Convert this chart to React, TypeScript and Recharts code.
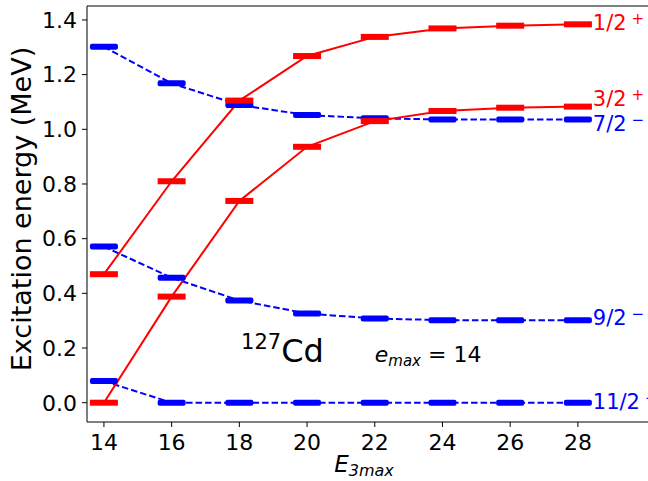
import { LineChart, Line, XAxis, YAxis, ReferenceDot, ReferenceLine, Label } from 'recharts';

// E3max truncation values
const e3max = [14, 16, 18, 20, 22, 24, 26, 28];

// excitation energies (MeV) of each level
const half1Plus = [0.47, 0.81, 1.105, 1.268, 1.338, 1.369, 1.379, 1.384];
const half3Plus = [0.0, 0.388, 0.738, 0.936, 1.03, 1.067, 1.079, 1.083];
const half7Minus = [1.302, 1.168, 1.089, 1.052, 1.04, 1.036, 1.036, 1.036];
const half9Minus = [0.571, 0.457, 0.374, 0.326, 0.308, 0.302, 0.302, 0.302];
const half11Minus = [0.079, 0, 0, 0, 0, 0, 0, 0];

const xTicks = [14, 16, 18, 20, 22, 24, 26, 28];
const yTicks = [0, 0.2, 0.4, 0.6, 0.8, 1.0, 1.2, 1.4];

const levelNames = ['1/2', '3/2', '7/2', '9/2', '11/2'];
const levelParity = ['+', '+', '\u2212', '\u2212', '\u2212'];
const levelLabelY = [1.392, 1.113, 1.023, 0.31, 0.004];

const RED = '#ff0000';
const BLUE = '#0000ff';
const FONT = '"DejaVu Sans", sans-serif';
const X_MIN = 13.5;
const X_MAX = 30.1;
const Y_MIN = -0.0706;
const Y_MAX = 1.451;
const LABEL_X = 28.44;

const data = e3max.map((x, i) => ({
  x,
  j12: half1Plus[i],
  j32: half3Plus[i],
  j72: half7Minus[i],
  j92: half9Minus[i],
  j112: half11Minus[i],
}));

const levelColors = [RED, RED, BLUE, BLUE, BLUE];

const barDot = (color: string, round: boolean) => (props: any) => {
  const { cx, cy, index } = props;
  if (cx == null || cy == null) return <g key={`e${index}`} />;
  return (
    <rect
      key={`b${index}`}
      x={cx - 14}
      y={cy - 3}
      width={28}
      height={6}
      rx={round ? 2 : 0}
      fill={color}
    />
  );
};

const levelLabel = (i: number) => (props: any) => {
  const { cx, cy } = props;
  return (
    <text x={cx} y={cy + 7.5} fill={levelColors[i]} fontSize={21} fontFamily={FONT}>
      {levelNames[i]}
      <tspan dx={5} dy={-6} fontSize={15}>
        {levelParity[i]}
      </tspan>
    </text>
  );
};

export default function App() {
  return (
    <div
      style={{
        position: 'fixed',
        left: 0,
        top: 0,
        width: 648,
        height: 481,
        overflow: 'hidden',
        background: '#fff',
      }}
    >
      <LineChart
        width={660}
        height={481}
        data={data}
        margin={{ top: 6, right: 11, bottom: 0, left: 0 }}
      >
        <XAxis
          dataKey="x"
          type="number"
          domain={[X_MIN, X_MAX]}
          ticks={xTicks}
          allowDataOverflow
          height={59}
          stroke="#000"
          tickSize={5}
          tickMargin={7}
          tick={{ fill: '#000', fontSize: 22, fontFamily: FONT }}
        >
          <Label
            content={({ viewBox }: any) => (
              <text
                x={viewBox.x + viewBox.width / 2 - 4}
                y={viewBox.y + 50}
                textAnchor="middle"
                fontFamily={FONT}
                fill="#000"
                fontStyle="italic"
                fontSize={23}
              >
                E
                <tspan dy={4} fontSize={16}>
                  3max
                </tspan>
              </text>
            )}
          />
        </XAxis>
        <YAxis
          type="number"
          domain={[Y_MIN, Y_MAX]}
          ticks={yTicks}
          allowDataOverflow
          width={87}
          stroke="#000"
          tickSize={5}
          tickMargin={5}
          tickFormatter={(v: number) => v.toFixed(1)}
          tick={{ fill: '#000', fontSize: 22, fontFamily: FONT }}
        >
          <Label
            content={({ viewBox }: any) => {
              const cx = 31;
              const cy = viewBox.y + viewBox.height / 2 - 5;
              return (
                <text
                  x={cx}
                  y={cy}
                  transform={`rotate(-90 ${cx} ${cy})`}
                  textAnchor="middle"
                  fontFamily={FONT}
                  fontSize={27}
                  fill="#000"
                >
                  Excitation energy (MeV)
                </text>
              );
            }}
          />
        </YAxis>
        <ReferenceLine y={Y_MAX} stroke="#000" strokeWidth={1} ifOverflow="visible" />

        <Line
          dataKey="j112"
          stroke={BLUE}
          strokeWidth={2}
          strokeDasharray="6.5 3"
          dot={barDot(BLUE, true)}
          activeDot={false}
          isAnimationActive={false}
        />
        <Line
          dataKey="j92"
          stroke={BLUE}
          strokeWidth={2}
          strokeDasharray="6.5 3"
          dot={barDot(BLUE, true)}
          activeDot={false}
          isAnimationActive={false}
        />
        <Line
          dataKey="j72"
          stroke={BLUE}
          strokeWidth={2}
          strokeDasharray="6.5 3"
          dot={barDot(BLUE, true)}
          activeDot={false}
          isAnimationActive={false}
        />
        <Line
          dataKey="j32"
          stroke={RED}
          strokeWidth={2}
          dot={barDot(RED, false)}
          activeDot={false}
          isAnimationActive={false}
        />
        <Line
          dataKey="j12"
          stroke={RED}
          strokeWidth={2}
          dot={barDot(RED, false)}
          activeDot={false}
          isAnimationActive={false}
        />

        {levelNames.map((name, i) => (
          <ReferenceDot
            key={name}
            x={LABEL_X}
            y={levelLabelY[i]}
            r={0}
            ifOverflow="visible"
            shape={levelLabel(i)}
          />
        ))}

        <ReferenceDot
          x={18.05}
          y={0.15}
          r={0}
          ifOverflow="visible"
          shape={(p: any) => (
            <text x={p.cx} y={p.cy} fontFamily={FONT} fill="#000" fontSize={32}>
              <tspan fontSize={21} dy={-13}>127</tspan>
              <tspan dy={13}>Cd</tspan>
            </text>
          )}
        />
        <ReferenceDot
          x={22.0}
          y={0.15}
          r={0}
          ifOverflow="visible"
          shape={(p: any) => (
            <text x={p.cx} y={p.cy} fontFamily={FONT} fill="#000" fontSize={22}>
              <tspan fontStyle="italic">e</tspan>
              <tspan fontStyle="italic" fontSize={15} dy={4}>max</tspan>
              <tspan dy={-4}> = 14</tspan>
            </text>
          )}
        />
      </LineChart>
    </div>
  );
}
